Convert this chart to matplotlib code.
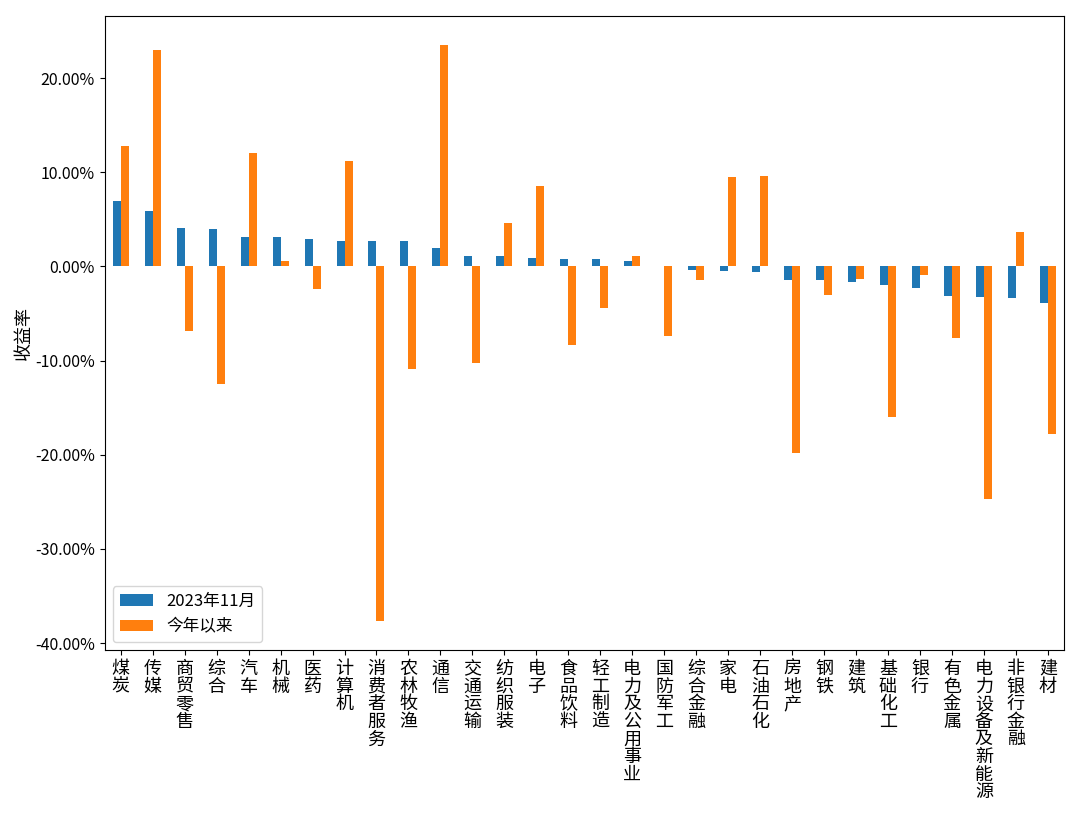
import matplotlib
matplotlib.use("Agg")
import matplotlib.pyplot as plt
from matplotlib.ticker import FuncFormatter
import numpy as np

plt.rcParams['font.family'] = ['Noto Sans CJK SC', 'DejaVu Sans']
plt.rcParams['axes.unicode_minus'] = False

categories = ["煤炭", "传媒", "商贸零售", "综合", "汽车", "机械", "医药", "计算机", "消费者服务",
              "农林牧渔", "通信", "交通运输", "纺织服装", "电子", "食品饮料", "轻工制造",
              "电力及公用事业", "国防军工", "综合金融", "家电", "石油石化", "房地产", "钢铁",
              "建筑", "基础化工", "银行", "有色金属", "电力设备及新能源", "非银行金融", "建材"]

nov_2023 = [7.00, 5.87, 4.13, 3.96, 3.18, 3.18, 2.97, 2.72, 2.72, 2.72, 2.01, 1.13, 1.06, 0.85,
            0.78, 0.78, 0.53, 0.10, -0.35, -0.53, -0.62, -1.41, -1.41, -1.68, -2.01, -2.28,
            -3.14, -3.25, -3.32, -3.85]
ytd = [12.76, 23.00, -6.89, -12.50, 12.08, 0.58, -2.35, 11.20, -37.70, -10.85, 23.50, -10.30,
       4.66, 8.59, -8.37, -4.38, 1.06, -7.35, -1.40, 9.54, 9.61, -19.86, -3.07, -1.34, -15.97,
       -0.88, -7.60, -24.73, 3.71, -17.74]
series_names = ["2023年11月", "今年以来"]

fig = plt.figure(figsize=(10.8, 8.18), dpi=100)
ax = fig.add_axes([0.097, 0.205, 0.888, 0.775])

x = np.arange(len(categories))
w = 0.25
ax.bar(x - w / 2, nov_2023, width=w, color='#1f77b4', label=series_names[0])
ax.bar(x + w / 2, ytd, width=w, color='#ff7f0e', label=series_names[1])
ax.set_xlim(-0.5, len(categories) - 0.5)

ax.set_xticks(x)
ax.set_xticklabels(["\n".join(c) for c in categories], fontsize=13, linespacing=0.97,
                   va='top')
ax.yaxis.set_major_formatter(FuncFormatter(lambda v, p: f"{v:.2f}%"))
ax.set_yticks([-40, -30, -20, -10, 0, 10, 20])
ax.tick_params(axis='y', labelsize=11.5)
ax.set_ylabel("收益率", fontsize=13, labelpad=2)
ax.legend(loc='lower left', fontsize=12)

fig.savefig("out.png", dpi=100)
